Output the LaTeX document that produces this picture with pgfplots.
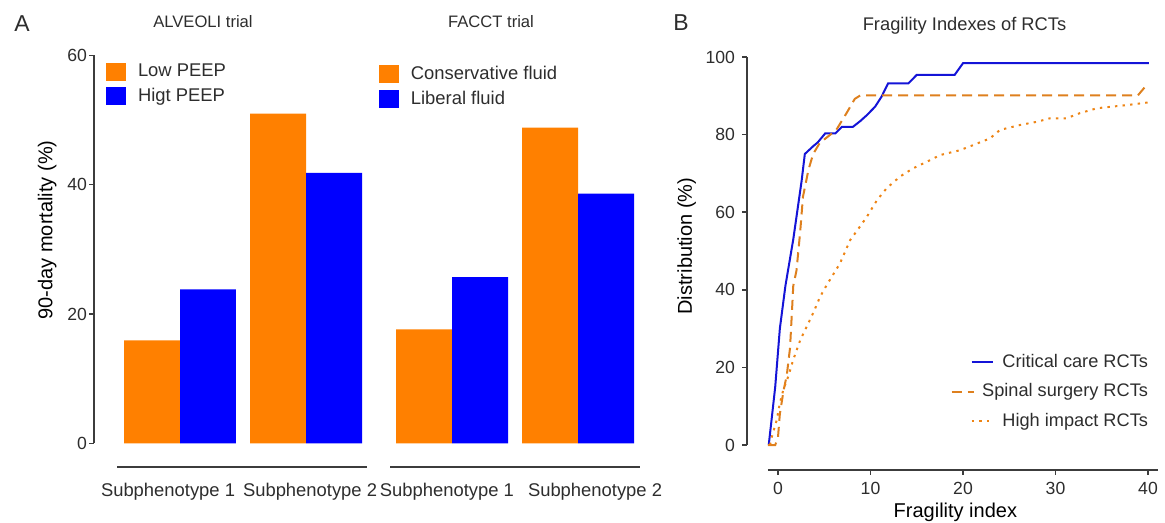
\documentclass[border=0pt]{standalone}
\usepackage{fontspec}
\setmainfont{Liberation Sans}
\usepackage{pgfplots}
\pgfplotsset{compat=1.18}
\definecolor{barorange}{RGB}{255,128,0}
\definecolor{barblue}{RGB}{0,0,255}
\definecolor{critblue}{RGB}{20,20,215}
\definecolor{spinorange}{RGB}{222,128,30}
\definecolor{highorange}{RGB}{238,132,20}
\definecolor{textgray}{RGB}{45,45,45}
\definecolor{axisgray}{RGB}{60,60,60}
\pgfplotsset{
  every axis/.append style={
    scale only axis, clip=false,
    /pgf/number format/assume math mode=true,
    tick label style={font=\fontsize{8.8}{10}\selectfont, text=textgray},
    label style={font=\fontsize{9.2}{11}\selectfont, text=textgray},
    tick align=outside, major tick length=2.5pt,
    tick style={axisgray, line width=0.7pt},
  },
  barleg/.style={
    legend cell align=left,
    legend style={draw=none, fill=none, inner sep=0pt, row sep=2.5pt, column sep=5pt,
      nodes={inner sep=0.8pt, text=textgray, font=\fontsize{9.2}{11}\selectfont}},
    legend image code/.code={\fill[##1] (0pt,-4.5pt) rectangle (10pt,4.5pt);},
  },
  shiftedline/.style={
    legend image code/.code={\path[draw=none] (0pt,0pt) (11pt,0pt); \draw[##1, overlay] (10.1pt,0pt) -- (20.6pt,0pt);},
  },
}
\begin{document}
\begin{tikzpicture}[x=1pt,y=1pt]
\path[use as bounding box] (0pt,0pt) rectangle (582.5pt,261.5pt);

% ---------------- Panel A: ALVEOLI ----------------
\begin{axis}[
  at={(47pt,39.85pt)}, anchor=south west,
  width=138pt, height=194pt,
  xmin=-0.6825, xmax=1.5079, ymin=0, ymax=60,
  axis x line*=bottom, axis y line*=left,
  x axis line style={draw=none}, y axis line style={axisgray, line width=0.7pt},
  major x tick style={draw=none},
  xtick={-0.095,1.032}, xticklabels={Subphenotype 1, Subphenotype 2},
  xticklabel style={anchor=base, yshift=-24pt, font=\fontsize{9.2}{11}\selectfont},
  ytick={0,20,40,60},
  yticklabel style={xshift=2.5pt},
  ylabel={90-day mortality (\%)},
  every axis y label/.style={at={(axis description cs:-0.170,0.55)}, rotate=90, anchor=center},
  ybar, barleg,
  legend style={at={(axis description cs:0.0435,0.982)}, anchor=north west},
]
\addplot[bar width=0.4444, bar shift=-0.2222, fill=barorange, draw=none] coordinates {(0,15.9) (1,51.0)};
\addplot[bar width=0.4444, bar shift=0.2222, fill=barblue, draw=none] coordinates {(0,23.8) (1,41.8)};
\legend{Low PEEP, Higt PEEP}
\end{axis}

% ---------------- Panel A: FACCT ----------------
\begin{axis}[
  at={(190pt,39.85pt)}, anchor=south west,
  width=135pt, height=194pt,
  xmin=-0.5714, xmax=1.5714, ymin=0, ymax=60,
  axis x line*=bottom, axis y line=none,
  x axis line style={draw=none},
  major x tick style={draw=none},
  xtick={-0.04,1.135}, xticklabels={Subphenotype 1, Subphenotype 2},
  xticklabel style={anchor=base, yshift=-24pt, font=\fontsize{9.2}{11}\selectfont},
  ybar, barleg,
  legend style={at={(axis description cs:-0.004,0.977)}, anchor=north west},
]
\addplot[bar width=0.4444, bar shift=-0.2222, fill=barorange, draw=none] coordinates {(0,17.6) (1,48.8)};
\addplot[bar width=0.4444, bar shift=0.2222, fill=barblue, draw=none] coordinates {(0,25.7) (1,38.6)};
\legend{Conservative fluid, Liberal fluid}
\end{axis}

\draw[axisgray, line width=0.7pt] (58.5pt,28pt) -- (183.5pt,28pt);
\draw[axisgray, line width=0.7pt] (195pt,28pt) -- (320pt,28pt);

\node[font=\fontsize{8.3}{10}\selectfont, text=textgray] at (101.5pt,250.5pt) {ALVEOLI trial};
\node[font=\fontsize{8.3}{10}\selectfont, text=textgray] at (245.5pt,250.5pt) {FACCT trial};
\node[font=\fontsize{11.5}{13}\selectfont, text=textgray] at (11pt,249.5pt) {A};

% ---------------- Panel B ----------------
\begin{axis}[
  at={(373.5pt,26.5pt)}, anchor=south west,
  width=205.5pt, height=206.5pt,
  xmin=-3.35, xmax=41.08, ymin=-6.44, ymax=100,
  axis x line*=bottom, axis y line*=left,
  axis line style={draw=none},
  xtick={0,10,20,30,40}, ytick={0,20,40,60,80,100},
  xlabel={Fragility index}, ylabel={Distribution (\%)},
  every axis y label/.style={at={(axis description cs:-0.147,0.542)}, rotate=90, anchor=center},
  every axis x label/.style={at={(axis description cs:0.507,-0.116)}, anchor=base},
  legend cell align=right,
  legend style={at={(axis description cs:0.9805,0.094)}, anchor=south east,
    draw=none, fill=none, inner sep=0pt, row sep=5pt, column sep=3pt,
    nodes={inner sep=0.8pt, text=textgray, font=\fontsize{9.1}{11}\selectfont}},
  legend image code/.code={\draw[#1] (0pt,0pt) -- (11pt,0pt);},
]
\draw[axisgray, line width=0.7pt] (axis cs:-1.1,-6.44) -- (axis cs:41.08,-6.44);
\draw[axisgray, line width=0.7pt] (axis cs:-3.35,0) -- (axis cs:-3.35,100);
\addplot[critblue, line width=1pt, shiftedline] coordinates {
(-1.0,0) (-0.3,15) (0.2,30) (0.8,41) (1.65,53) (2.55,68) (2.9,75) (3.8,77) (4.3,78)
(5.1,80.3) (6.2,80.3) (6.9,82) (8.1,82) (8.9,83.5) (9.6,85) (10.5,87.2) (11.2,89.8)
(11.9,93.2) (14.1,93.2) (15.0,95.4) (19.1,95.4) (20.0,98.4) (40.1,98.4)};
\addlegendentry{Critical care RCTs}
\addplot[spinorange, line width=1pt, dash pattern=on 5pt off 3pt] coordinates {
(-1.1,0) (-0.3,0) (0.0,2) (0.2,8) (0.6,14) (0.95,18) (1.3,25) (1.5,34) (1.65,41)
(2.0,45) (2.4,55) (2.7,64) (3.3,71) (3.8,75) (4.5,77.8) (5.4,79.5) (6.3,81.2)
(7.4,85.5) (8.3,89.2) (8.9,90.1) (38.9,90.1) (40.0,93.2)};
\addlegendentry{Spinal surgery RCTs}
\addplot[highorange, line width=1pt, dash pattern=on 1.2pt off 2.6pt, shiftedline] coordinates {
(-0.86,0) (-0.68,2) (-0.14,6.4) (0.2,10.8) (0.57,14.2) (1.1,17.6) (1.65,22) (2.4,27)
(3.1,30.5) (3.8,34) (4.55,38.2) (5.26,41.2) (6.7,46.8) (7.8,52.8) (8.86,56.3) (9.6,58.8)
(10.7,63.1) (11.75,66.2) (13.2,69.2) (14.6,71.3) (16.1,73) (17.5,74.7) (19.7,76)
(21.1,77.3) (22.9,79) (24,81.2) (26.2,82.5) (28,83.3) (29.4,84.2) (31.2,84.2)
(32.6,85.5) (34.5,86.8) (37.7,87.6) (40.05,88.3)};
\addlegendentry{High impact RCTs}
\end{axis}

\node[font=\fontsize{9.15}{11}\selectfont, text=textgray] at (482.25pt,248.5pt) {Fragility Indexes of RCTs};
\node[font=\fontsize{11.5}{13}\selectfont, text=textgray] at (340.5pt,250pt) {B};
\end{tikzpicture}
\end{document}
